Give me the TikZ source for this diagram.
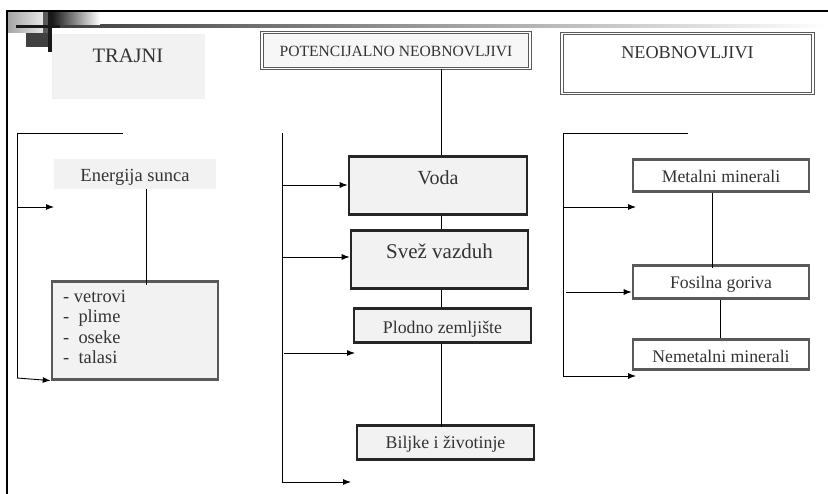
\documentclass[tikz,border=0pt]{standalone}
\usepackage{fontspec}
\setmainfont{Liberation Serif}
\usetikzlibrary{arrows.meta}
\definecolor{txt}{HTML}{333333}
\definecolor{boxfill}{HTML}{F2F2F2}
\definecolor{frameg}{HTML}{595959}
\tikzset{
  base/.style={inner xsep=0pt, inner ysep=0pt, anchor=north, align=center, text=txt},
  softbox/.style={base, fill=boxfill, draw=black!6, line width=0.8pt},
  plainbox/.style={base, fill=boxfill},
  dblbox/.style={base, draw=frameg, double=white, double distance=1.3pt, line width=0.9pt},
  blackbox/.style={base, fill=boxfill, draw=black!85, line width=2.6pt},
  graybox/.style={base, fill=white, draw=frameg, line width=2.6pt},
  listbox/.style={base, fill=boxfill, draw=frameg, line width=2.6pt},
  conn/.style={draw=black, line width=0.9pt},
  arr/.style={conn, -{Latex[length=8pt,width=6pt]}},
}
\begin{document}
\begin{tikzpicture}[x=1pt,y=-1pt]
\useasboundingbox (0,0) rectangle (828,494);
\fill[white] (0,0) rectangle (828,494);
% decoration
\shade[left color=black!80, right color=white] (16,25) rectangle (828,28);
\shade[left color=black!35, right color=black!10] (8,12) rectangle (43,33);
\fill[black!65] (43,12) rectangle (48,33);
\shade[left color=black!90, right color=white] (52,12) rectangle (100,25);
\fill[black!75] (26,33) rectangle (50,47);
\fill[black!90] (48,12) rectangle (52,52);
\fill[black!90] (16,25) rectangle (60,28);
\draw[black, line width=2.4pt] (7,494) -- (7,11) -- (828,11);

% headers
\node[softbox, minimum width=152pt, text height=28pt, text depth=36pt,
      font=\fontsize{20.5}{24}\selectfont] (trajni) at (128,34) {TRAJNI};
\node[dblbox, fill=black!3, minimum width=268pt, text height=24pt, text depth=12pt,
      font=\fontsize{15.6}{18}\selectfont] (pot) at (396,32) {POTENCIJALNO NEOBNOVLJIVI};
\node[dblbox, fill=white, minimum width=251pt, text height=25pt, text depth=35pt,
      font=\fontsize{18.2}{22}\selectfont] (neo) at (687.5,33) {NEOBNOVLJIVI};

% left column
\node[plainbox, minimum width=162pt, text height=22pt, text depth=8pt,
      font=\fontsize{18.5}{22}\selectfont] (sun) at (135,159) {Energija sunca};
\node[listbox, minimum width=166pt, minimum height=98pt] (list) at (135,280) {};
\node[inner sep=0pt, anchor=north west, align=left, text=txt,
      font=\fontsize{18.4}{20.5}\selectfont] (listtxt) at (63,290)
      {- vetrovi\\-\ \ plime\\-\ \ oseke\\-\ \ talasi};

% middle column
\node[blackbox, minimum width=178pt, text height=28pt, text depth=30pt,
      font=\fontsize{20}{24}\selectfont] (voda) at (438,155) {Voda};
\node[blackbox, minimum width=177pt, text height=28pt, text depth=30pt,
      font=\fontsize{21}{24}\selectfont] (svez) at (439.5,229) {Svež vazduh};
\node[blackbox, minimum width=177pt, text height=25pt, text depth=9pt,
      font=\fontsize{17.8}{22}\selectfont] (plodno) at (442.5,307) {Plodno zemljište};
\node[blackbox, minimum width=177pt, text height=23pt, text depth=11pt,
      font=\fontsize{17.8}{22}\selectfont] (biljke) at (445.5,424) {Biljke i životinje};

% right column
\node[graybox, minimum width=176pt, text height=23pt, text depth=9pt,
      font=\fontsize{17.7}{22}\selectfont] (metal) at (721,158) {Metalni minerali};
\node[graybox, minimum width=176pt, text height=23pt, text depth=10pt,
      font=\fontsize{17.7}{22}\selectfont] (fosil) at (721,264) {Fosilna goriva};
\node[graybox, minimum width=176pt, text height=23pt, text depth=7pt,
      font=\fontsize{17.7}{22}\selectfont] (nemetal) at (721,338) {Nemetalni minerali};

% vertical links
\draw[conn] (pot.south -| 441,0) -- (voda.north -| 441,0);
\draw[conn] (voda.south -| 441,0) -- (svez.north -| 441,0);
\draw[conn] (svez.south -| 441,0) -- (plodno.north -| 441,0);
\draw[conn] (plodno.south -| 441,0) -- ([yshift=-3pt]biljke.north -| 441,0);
\draw[conn] (sun.south -| 146,0) -- ([yshift=-5pt]list.north -| 146,0);
\draw[conn] (metal.south -| 712,0) -- ([yshift=-4pt]fosil.north -| 712,0);
\draw[conn] (fosil.south -| 720,0) -- (nemetal.north -| 720,0);

% left bracket
\coordinate (la) at (123,133);
\coordinate (lb) at (17,133);
\coordinate (lc) at (17,378);
\coordinate (l1) at (17,207);
\coordinate (l1e) at (54,207);
\draw[conn] (la) -- (lb) -- (lc);
\draw[arr] (l1) -- (l1e);
\draw[arr] (lc) -- (list.south west);

% middle bracket
\coordinate (ma) at (282,133);
\coordinate (mb) at (282,482);
\coordinate (m1) at (282,185);
\coordinate (m2) at (282,257);
\coordinate (m3) at (284,353);
\coordinate (m3e) at (355,353);
\coordinate (m4e) at (351,482);
\draw[conn] (ma) -- (mb);
\draw[arr] (m1) -- (voda.west |- m1);
\draw[arr] (m2) -- (svez.west |- m2);
\draw[arr] (m3) -- (m3e);
\draw[arr] (mb) -- (m4e);

% right bracket
\coordinate (ra) at (688,133);
\coordinate (rb) at (563,133);
\coordinate (rc) at (563,376);
\coordinate (r1) at (563,207);
\coordinate (r1e) at (636,207);
\coordinate (r2) at (566,292);
\coordinate (r3e) at (636,376);
\draw[conn] (ra) -- (rb) -- (rc);
\draw[arr] (r1) -- (r1e);
\draw[arr] (r2) -- (fosil.west |- r2);
\draw[arr] (rc) -- (r3e);
\end{tikzpicture}
\end{document}
